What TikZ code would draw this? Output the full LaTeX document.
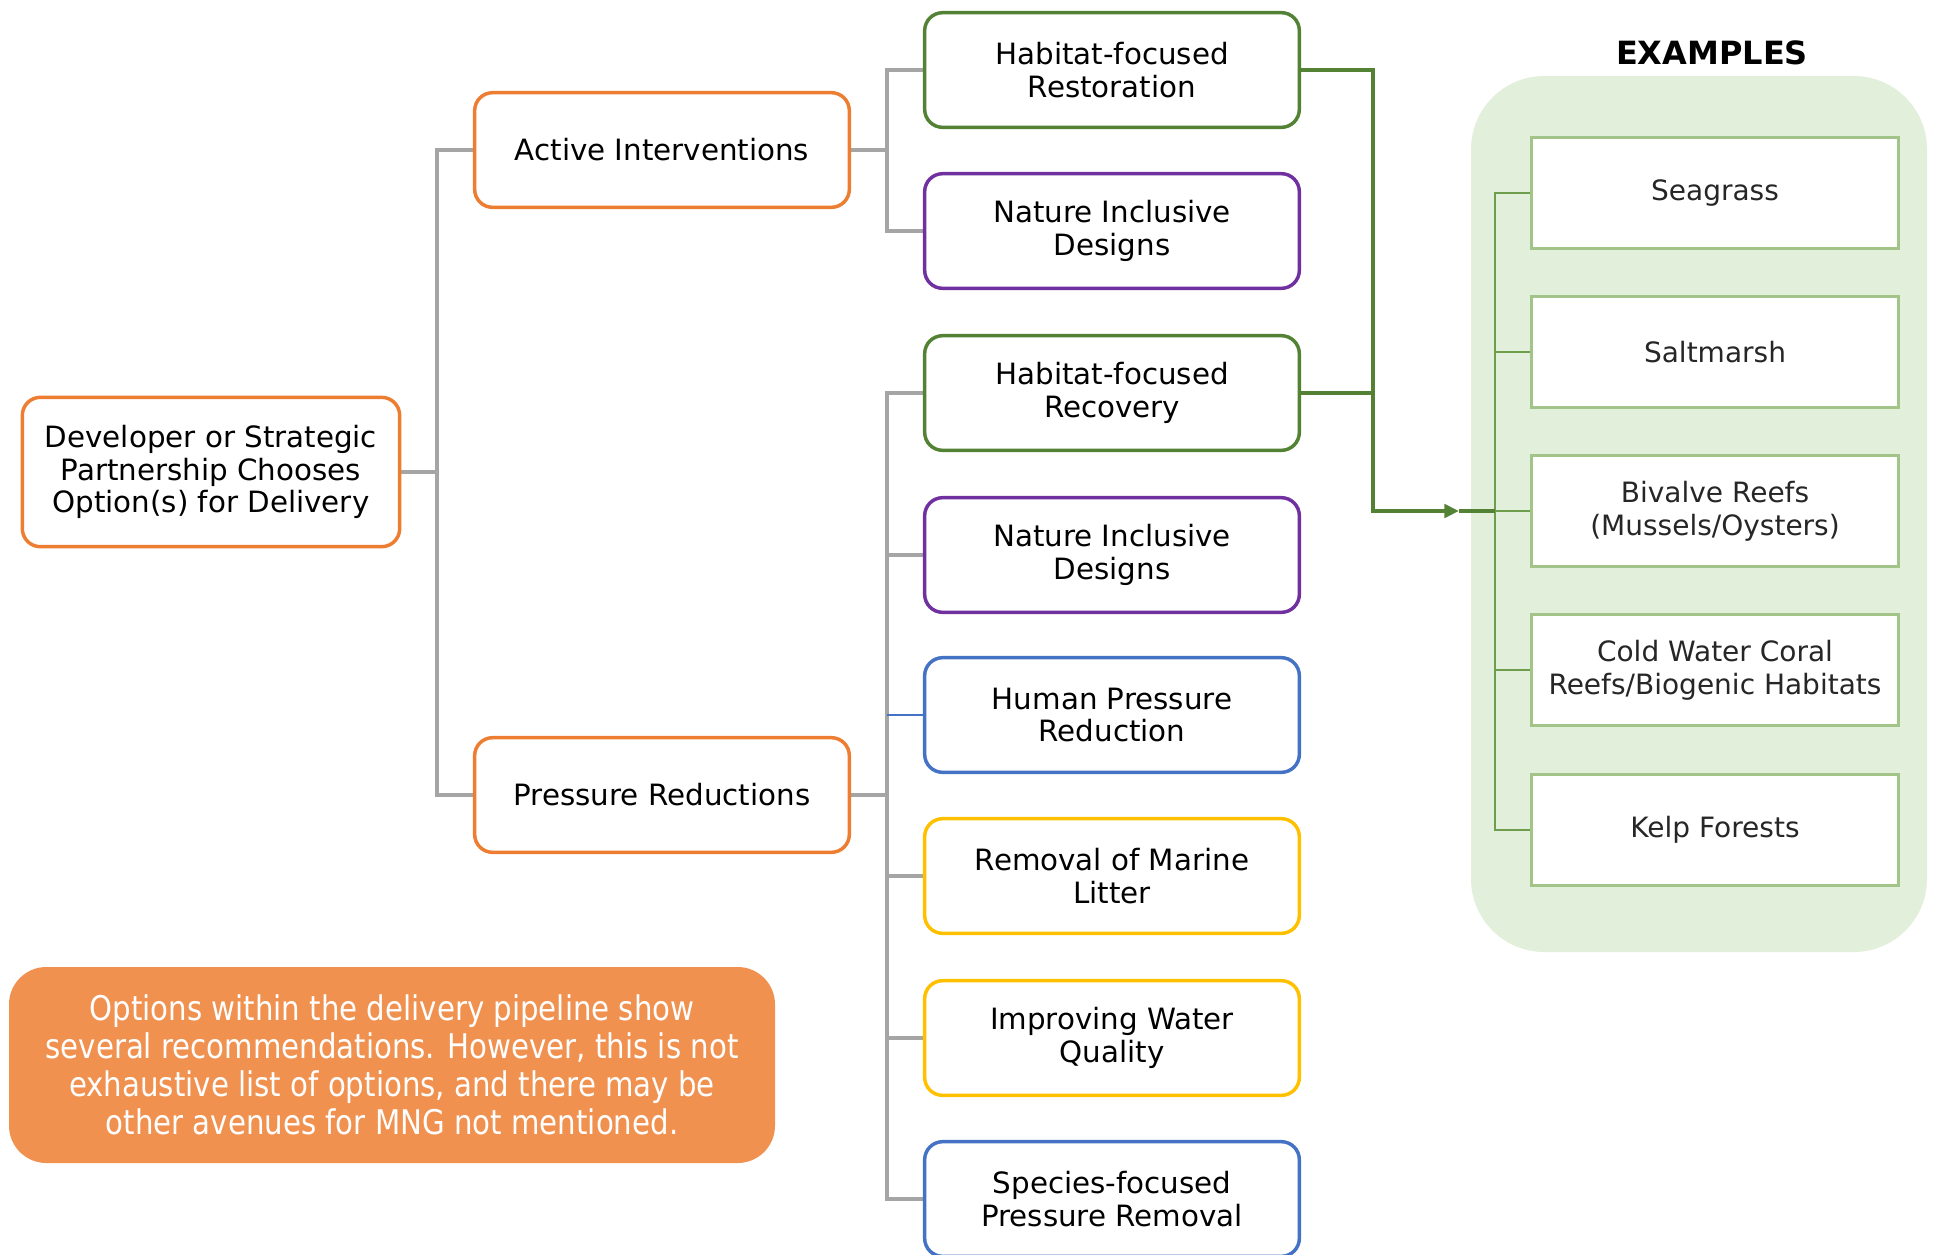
\documentclass[tikz,border=0pt]{standalone}
\usepackage{fontspec}
\setmainfont{DejaVu Sans}
\newfontfamily\notefont[FakeStretch=0.86]{DejaVu Sans}
\usetikzlibrary{arrows.meta,backgrounds}

\definecolor{orangeB}{HTML}{ED7D31}
\definecolor{greenB}{HTML}{548235}
\definecolor{purpleB}{HTML}{7030A0}
\definecolor{blueB}{HTML}{4472C4}
\definecolor{goldB}{HTML}{FFC000}
\definecolor{greyL}{HTML}{A5A5A5}
\definecolor{noteFill}{HTML}{F0914F}
\definecolor{panelFill}{HTML}{E2EFDA}
\definecolor{exBorder}{HTML}{A3C489}
\definecolor{exLine}{HTML}{6E9E4C}
\definecolor{exText}{HTML}{262626}

\tikzset{
  optbox/.style={draw, rounded corners=13.5pt, line width=2.6pt, fill=white,
    minimum width=281pt, minimum height=86pt, align=center, inner sep=0pt,
    font=\fontsize{22}{24.5}\selectfont},
  exbox/.style={draw=exBorder, line width=2pt, fill=white, text=exText,
    minimum width=275pt, minimum height=83pt, align=center, inner sep=0pt,
    font=\fontsize{21}{24.5}\selectfont},
  tree/.style={draw=greyL, line width=3pt},
  link/.style={draw=greenB, line width=2.8pt},
  exlink/.style={draw=exLine, line width=2pt},
}

\begin{document}
\begin{tikzpicture}[x=0.75pt,y=-0.75pt]
\useasboundingbox (0,0) rectangle (1934,1254);

% root and first level
\node[optbox, draw=orangeB, minimum width=283pt, minimum height=112pt] (dev) at (211,472)
  {Developer or Strategic\\Partnership Chooses\\Option(s) for Delivery};
\node[optbox, draw=orangeB] (ai) at (662,150) {Active Interventions};
\node[optbox, draw=orangeB] (pr) at (662,795) {Pressure Reductions};

% delivery options
\node[optbox, draw=greenB]  (hr)  at (1112,70)   {Habitat-focused\\Restoration};
\node[optbox, draw=purpleB] (ni1) at (1112,231)  {Nature Inclusive\\Designs};
\node[optbox, draw=greenB]  (hc)  at (1112,393)  {Habitat-focused\\Recovery};
\node[optbox, draw=purpleB] (ni2) at (1112,555)  {Nature Inclusive\\Designs};
\node[optbox, draw=blueB]   (hp)  at (1112,715)  {Human Pressure\\Reduction};
\node[optbox, draw=goldB]   (ml)  at (1112,876)  {Removal of Marine\\Litter};
\node[optbox, draw=goldB]   (wq)  at (1112,1038) {Improving Water\\Quality};
\node[optbox, draw=blueB]   (sp)  at (1112,1199) {Species-focused\\Pressure Removal};

% examples
\node[font=\fontsize{24}{27}\selectfont\bfseries] (extitle) at (1712,53) {EXAMPLES};
\node[exbox] (sg) at (1715,193) {Seagrass};
\node[exbox] (sm) at (1715,352) {Saltmarsh};
\node[exbox] (bv) at (1715,511) {Bivalve Reefs\\(Mussels/Oysters)};
\node[exbox] (cw) at (1715,670) {Cold Water Coral\\Reefs/Biogenic Habitats};
\node[exbox] (kf) at (1715,830) {Kelp Forests};

% note
\node[fill=noteFill, rounded corners=28pt, minimum width=574.5pt, minimum height=147pt,
  text=white, align=center, inner sep=0pt, font=\notefont\fontsize{25.5}{28.5}\selectfont] (note) at (392,1065)
  {Options within the delivery pipeline show\\several recommendations. However, this is not\\exhaustive list of options, and there may be\\other avenues for MNG not mentioned.};

\begin{pgfonlayer}{background}
  \fill[white] (0,0) rectangle (1934,1254);
  \fill[panelFill, rounded corners=55pt] (1471,76) rectangle (1927,952);

  \coordinate (t)  at (437,0);
  \coordinate (b1) at (887,0);
  \coordinate (gx) at (1373,0);
  \coordinate (tip) at (1459,0);
  \coordinate (eb) at (1495,0);

  % tree from the root
  \draw[tree] (dev.east) -- (dev.east -| t);
  \draw[tree] (ai.west) -- (ai.west -| t) -- (pr.west -| t) -- (pr.west);

  % active interventions
  \draw[tree] (ai.east) -- (ai.east -| b1);
  \draw[tree] (hr.west) -- (hr.west -| b1) -- (ni1.west -| b1) -- (ni1.west);

  % pressure reductions
  \draw[tree] (pr.east) -- (pr.east -| b1);
  \draw[tree] (hc.west) -- (hc.west -| b1) -- (sp.west -| b1) -- (sp.west);
  \draw[tree] (ni2.west) -- (ni2.west -| b1);
  \draw[draw=blueB, line width=2pt] (hp.west) -- (hp.west -| b1);
  \draw[tree] (ml.west) -- (ml.west -| b1);
  \draw[tree] (wq.west) -- (wq.west -| b1);

  % habitat links to examples
  \draw[exlink] (sg.west) -- (sg.west -| eb) -- (kf.west -| eb) -- (kf.west);
  \draw[exlink] (sm.west) -- (sm.west -| eb);
  \draw[exlink] (cw.west) -- (cw.west -| eb);
  \draw[exlink] (bv.west) -- (bv.west -| eb);
  \draw[link] (tip |- bv.west) -- (bv.west -| eb);
  \draw[link] (hc.east) -- (hc.east -| gx);
  \draw[link, -{Triangle[length=11pt,width=10pt]}]
    (hr.east) -- (hr.east -| gx) -- (gx |- bv.west) -- (tip |- bv.west);
\end{pgfonlayer}
\end{tikzpicture}
\end{document}
